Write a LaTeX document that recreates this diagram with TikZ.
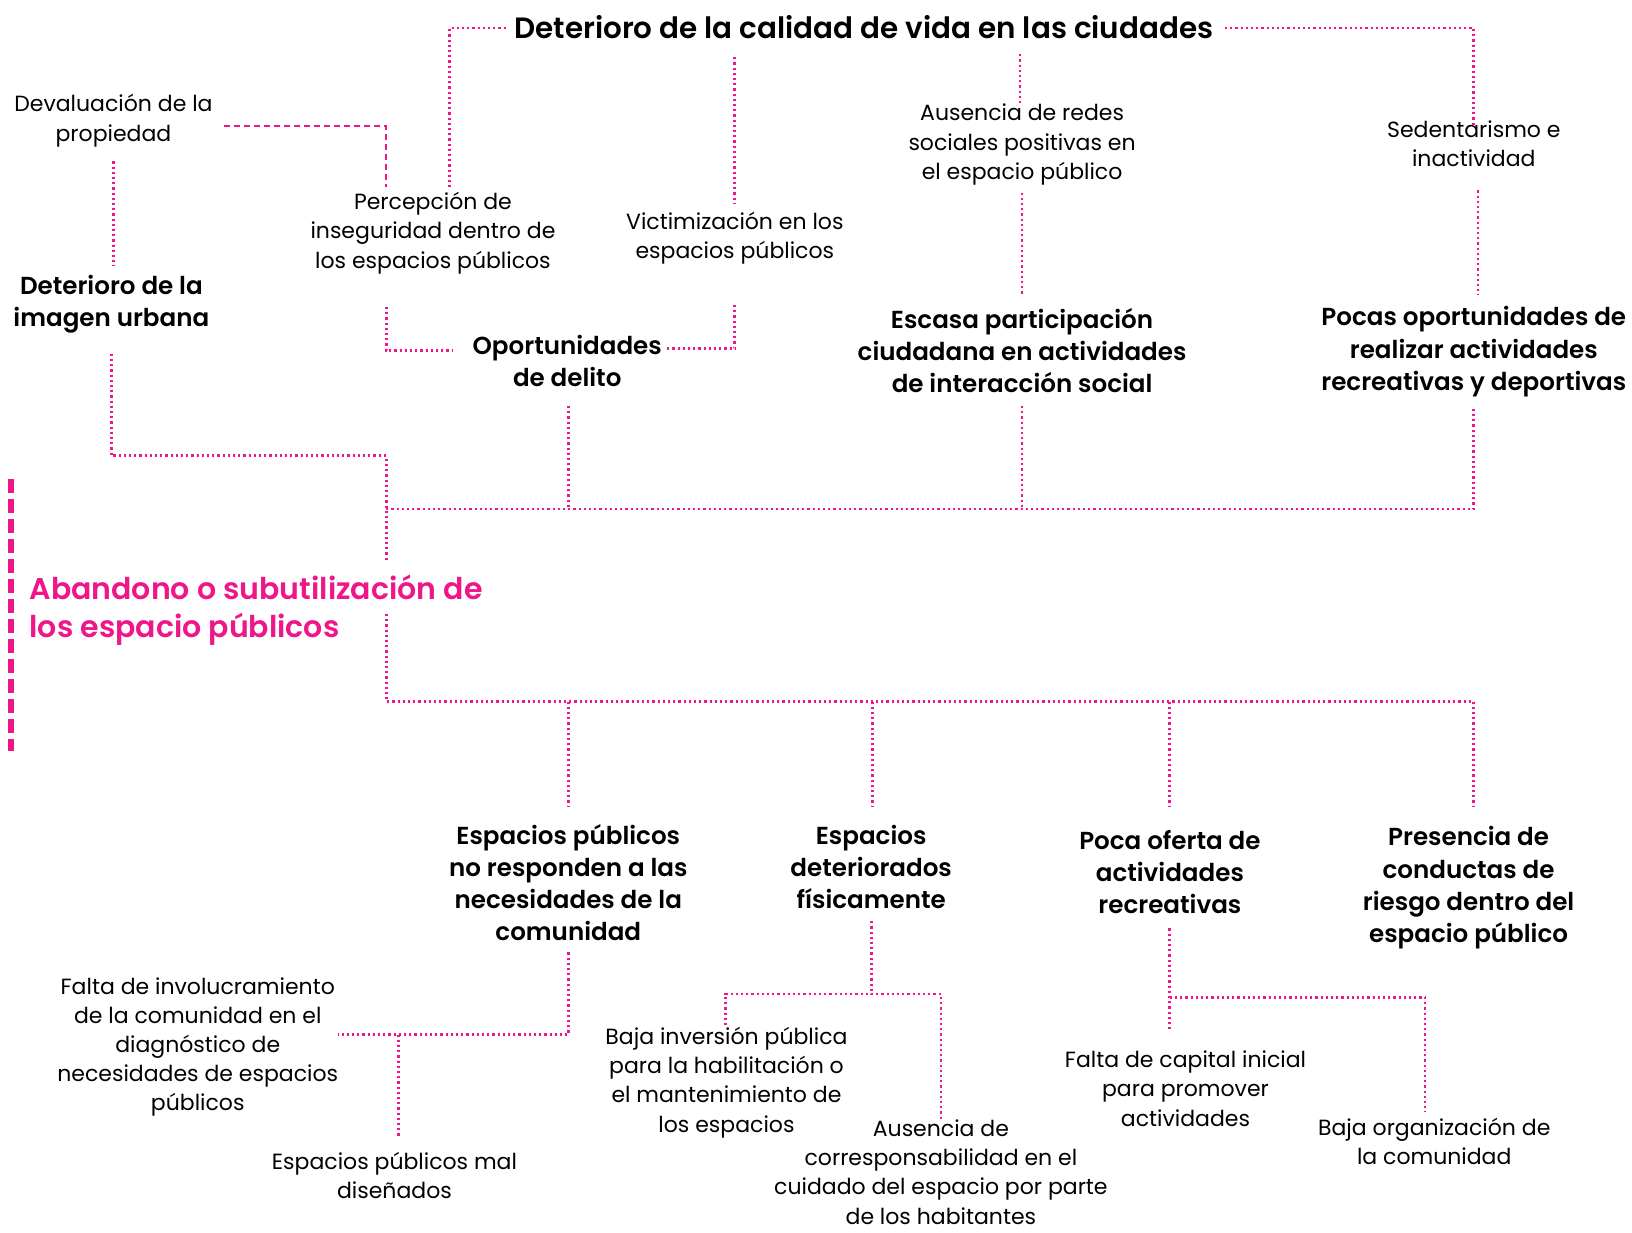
\documentclass[tikz,border=0pt]{standalone}
\usepackage{fontspec}
\setmainfont{Poppins}[BoldFont={Poppins SemiBold}]
\definecolor{pinkline}{RGB}{238,22,137}
\begin{document}
\begin{tikzpicture}[x=0.52041pt,y=-0.52041pt,
  reg/.style={align=center,inner sep=0pt,font=\fontsize{11}{14.6}\selectfont},
  bld/.style={align=center,inner sep=0pt,font=\bfseries\fontsize{12.3}{16.1}\selectfont},
  ttl/.style={align=center,inner sep=0pt,font=\bfseries\fontsize{14.7}{17}\selectfont},
  conn/.style={draw=pinkline,line width=1.4pt,dash pattern=on 1.1pt off 1.5pt},
  thinconn/.style={draw=pinkline,line width=0.9pt,dash pattern=on 3pt off 2pt},
]
\useasboundingbox[fill=white] (0,0) rectangle (1568,1184.6);

% nodes
\node[ttl] (top) at (830,26) {Deterioro de la calidad de vida en las ciudades};
\node[reg] (deval) at (109,116) {Devaluación de la\\propiedad};
\node[reg] (percep) at (416,224) {Percepción de\\inseguridad dentro de\\los espacios públicos};
\node[reg] (victim) at (706,229) {Victimización en los\\espacios públicos};
\node[reg] (ausred) at (982,139) {Ausencia de redes\\sociales positivas en\\el espacio público};
\node[reg] (sedent) at (1416,138) {Sedentarismo e\\inactividad};
\node[bld] (imagen) at (107,292) {Deterioro de la\\imagen urbana};
\node[bld] (oport) at (545,347) {Oportunidades\\de delito};
\node[bld] (escasa) at (982,337) {Escasa participación\\ciudadana en actividades\\de interacción social};
\node[bld] (pocas) at (1416,338) {Pocas oportunidades de\\realizar actividades\\recreativas y deportivas};
\node[align=left,inner sep=0pt,anchor=west,text=pinkline,font=\bfseries\fontsize{15}{19.2}\selectfont] (core) at (28,586) {Abandono o subutilización de\\los espacio públicos};
\node[bld] (noresp) at (546,848) {Espacios públicos\\no responden a las\\necesidades de la\\comunidad};
\node[bld] (deter) at (837,833) {Espacios\\deteriorados\\físicamente};
\node[bld] (oferta) at (1124,838) {Poca oferta de\\actividades\\recreativas};
\node[bld] (riesgo) at (1411,853) {Presencia de\\conductas de\\riesgo dentro del\\espacio público};
\node[reg] (involu) at (190,1006) {Falta de involucramiento\\de la comunidad en el\\diagnóstico de\\necesidades de espacios\\públicos};
\node[reg] (maldis) at (379,1129) {Espacios públicos mal\\diseñados};
\node[reg] (inver) at (698,1040) {Baja inversión pública\\para la habilitación o\\el mantenimiento de\\los espacios};
\node[reg] (corres) at (904,1126) {Ausencia de\\corresponsabilidad en el\\cuidado del espacio por parte\\de los habitantes};
\node[reg] (capital) at (1139,1046) {Falta de capital inicial\\para promover\\actividades};
\node[reg] (organ) at (1378,1097) {Baja organización de\\la comunidad};

% coordinates
\coordinate (a1) at (432,180); \coordinate (a2) at (487,27);
\coordinate (b1) at (1177,27); \coordinate (b2) at (1416,120);
\coordinate (c1) at (706,55);  \coordinate (c2) at (706,195);
\coordinate (d1) at (980,52);  \coordinate (d2) at (980,100);
\coordinate (e1) at (215,121); \coordinate (e2) at (371,180);
\coordinate (f1) at (109,155); \coordinate (f2) at (109,255);
\coordinate (g1) at (371,295); \coordinate (g2) at (435,337);
\coordinate (h1) at (706,293); \coordinate (h2) at (640,335);
\coordinate (i1) at (982,185); \coordinate (i2) at (982,283);
\coordinate (j1) at (1420,183); \coordinate (j2) at (1420,283);
\coordinate (k1) at (107,340); \coordinate (k2) at (371,438); \coordinate (k3) at (371,540);
\coordinate (l0) at (371,489); \coordinate (l1) at (1416,390);
\coordinate (l2) at (546,390); \coordinate (l3) at (982,390);
\coordinate (m1) at (371,590); \coordinate (m2) at (1416,775);
\coordinate (m3) at (546,775); \coordinate (m4) at (838,775); \coordinate (m5) at (1124,775);
\coordinate (n1) at (546,915); \coordinate (n2) at (325,994); \coordinate (n3) at (383,1093);
\coordinate (o1) at (837,885); \coordinate (o2) at (697,985); \coordinate (o3) at (904,1076);
\coordinate (p1) at (1124,892); \coordinate (p2) at (1124,990); \coordinate (p3) at (1369,1068);

% connectors
\draw[conn] (a1) |- (a2);
\draw[conn] (b1) -| (b2);
\draw[conn] (c1) -- (c2);
\draw[conn] (d1) -- (d2);
\draw[thinconn] (e1) -| (e2);
\draw[conn] (f1) -- (f2);
\draw[conn] (g1) |- (g2);
\draw[conn] (h1) |- (h2);
\draw[conn] (i1) -- (i2);
\draw[conn] (j1) -- (j2);
\draw[conn] (k1) |- (k2) -- (k3);
\draw[conn] (l0) -| (l1);
\draw[conn] (l2) -- (l2 |- l0);
\draw[conn] (l3) -- (l3 |- l0);
\draw[conn] (m1) |- (1416,674) -- (m2);
\draw[conn] (m3 |- 0,674) -- (m3);
\draw[conn] (m4 |- 0,674) -- (m4);
\draw[conn] (m5 |- 0,674) -- (m5);
\draw[conn] (n1) |- (n2);
\draw[conn] (n3 |- n2) -- (n3);
\draw[conn] (o1) -- (o1 |- 0,955);
\draw[conn] (o2) |- (o3 |- 0,955) -- (o3);
\draw[conn] (p1) -- (p2);
\draw[conn] (p1 |- 0,958) -| (p3);

% left bar
\draw[pinkline,line width=3pt,dash pattern=on 7pt off 3pt] (11,460) -- (11,722);
\end{tikzpicture}
\end{document}
